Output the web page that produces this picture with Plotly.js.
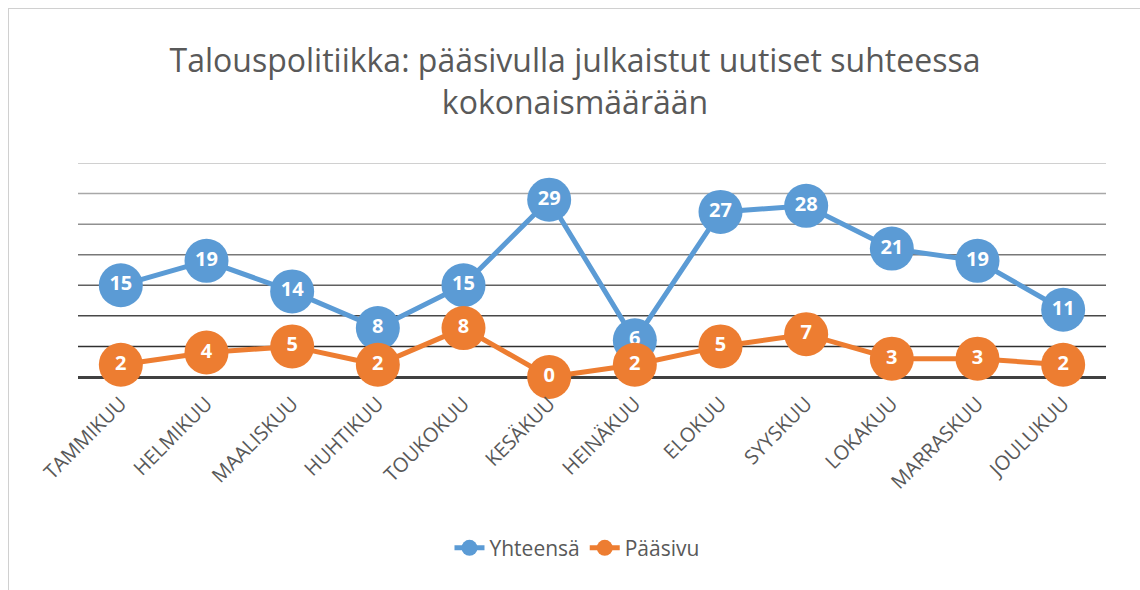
<!DOCTYPE html>
<html>
<head>
<meta charset="utf-8">
<script src="https://cdn.plot.ly/plotly-3.0.1.min.js"></script>
<style>
  html, body { margin: 0; padding: 0; background: #fff; }
  #wrap { position: relative; width: 1140px; height: 590px; overflow: hidden; }
  #chart { position: absolute; left: 0; top: 0; width: 1140px; height: 590px; }
  #frame { position: absolute; left: 8px; top: 8px; width: 1140px; height: 700px;
           border: 1px solid #d0d0d0; box-sizing: border-box; pointer-events: none; }
</style>
</head>
<body>
<div id="wrap">
  <div id="chart"></div>
  <div id="frame"></div>
</div>
<script>
const months = ["TAMMIKUU","HELMIKUU","MAALISKUU","HUHTIKUU","TOUKOKUU","KESÄKUU",
                "HEINÄKUU","ELOKUU","SYYSKUU","LOKAKUU","MARRASKUU","JOULUKUU"];
const yhteensa = [15, 19, 14, 8, 15, 29, 6, 27, 28, 21, 19, 11];
const paasivu  = [2, 4, 5, 2, 8, 0, 2, 5, 7, 3, 3, 2];

const FONT = "'Open Sans', sans-serif";
const YMAX = 35, YSTEP = 5;

function series(name, values, color) {
  return {
    type: "scatter",
    mode: "lines+markers+text",
    name: name,
    x: months,
    y: values,
    text: values.map(String),
    textposition: "middle center",
    textfont: { family: FONT, size: 20, color: "#ffffff", weight: "bold" },
    line: { color: color, width: 5 },
    marker: { color: color, size: 44 },
    cliponaxis: false,
    hoverinfo: "x+y+name"
  };
}

const data = [
  series("Yhteensä", yhteensa, "#5B9BD5"),
  series("Pääsivu", paasivu, "#ED7D31")
];

// gridlines drawn as shapes so their shade can darken toward the baseline, as in the reference
const gridShapes = [];
const nLines = YMAX / YSTEP;
for (let i = 1; i <= nLines; i++) {
  const t = (i - 1) / (nLines - 1);          // 0 at bottom line, 1 at top line
  const g = Math.round(0x30 + t * (0xc0 - 0x30));
  const hex = g.toString(16).padStart(2, "0");
  gridShapes.push({
    type: "line", xref: "paper", yref: "y",
    x0: 0, x1: 1, y0: i * YSTEP, y1: i * YSTEP,
    line: { color: "#" + hex + hex + hex, width: 1.5 },
    layer: "below"
  });
}

const layout = {
  width: 1140,
  height: 590,
  margin: { l: 78, r: 34, t: 163, b: 213 },
  paper_bgcolor: "#ffffff",
  plot_bgcolor: "#ffffff",
  font: { family: FONT, color: "#595959" },
  title: {
    text: "Talouspolitiikka: pääsivulla julkaistut uutiset suhteessa<br>kokonaismäärään",
    font: { family: FONT, size: 32, color: "#595959" },
    xref: "container",
    x: 575 / 1140, xanchor: "center",
    yref: "container",
    y: 1 - 72 / 590, yanchor: "middle"
  },
  xaxis: {
    type: "category",
    range: [-0.5, months.length - 0.5],
    tickangle: -45,
    tickfont: { family: FONT, size: 20, color: "#595959" },
    ticklabelstandoff: 10,
    showgrid: false,
    showline: false,
    zeroline: false,
    ticks: "",
    automargin: false
  },
  yaxis: {
    range: [0, YMAX],
    dtick: YSTEP,
    showticklabels: false,
    showgrid: false,
    zeroline: true,
    zerolinecolor: "#404040",
    zerolinewidth: 3,
    ticks: "",
    fixedrange: true
  },
  shapes: gridShapes,
  showlegend: true,
  legend: {
    orientation: "h",
    x: 0.4854, xanchor: "center",
    y: -0.8, yanchor: "middle",
    font: { family: FONT, size: 21, color: "#595959" },
    traceorder: "normal"
  }
};

Plotly.newPlot("chart", data, layout, { displayModeBar: false, staticPlot: true });
</script>
</body>
</html>
